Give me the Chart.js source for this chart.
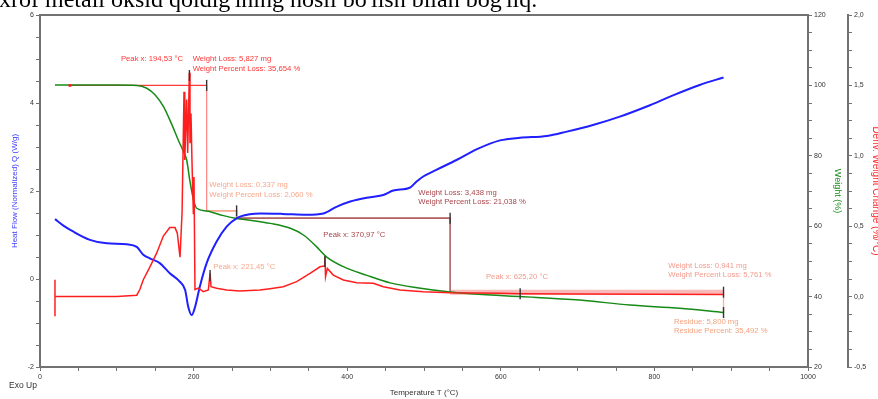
<!DOCTYPE html>
<html><head><meta charset="utf-8">
<script src="https://cdn.jsdelivr.net/npm/chart.js@4.4.0/dist/chart.umd.min.js"></script>
<style>
html,body{margin:0;padding:0;background:#fff;overflow:hidden;}
#wrap{position:relative;width:878px;height:399px;overflow:hidden;background:#fff;}
#doc{position:absolute;left:-1px;top:-13px;font-family:'Liberation Serif','Times New Roman',serif;font-size:24px;line-height:24px;color:#000;white-space:nowrap;}
canvas{position:absolute;left:0;top:0;}
</style></head><body>
<div id="wrap"><canvas id="c" width="878" height="399"></canvas><div id="doc">xrof metall oksid qoldig'ining hosil bo'lish bilan bog'liq.</div></div>
<script>
// ---------------- data ----------------
const hfTemp = [19.5, 30, 43, 65, 87, 113, 126, 134.5, 143, 156, 169, 182, 189, 193, 197.5, 202, 208, 217, 230, 243, 256, 273, 287, 316, 347, 369, 386, 404, 430, 447, 460, 482, 490, 499, 516, 543, 569, 599, 625, 660, 686, 720, 755, 790, 825, 859, 890];
const heatFlow = [1.36, 1.22, 1.08, 0.89, 0.81, 0.79, 0.73, 0.55, 0.47, 0.36, 0.13, -0.06, -0.25, -0.63, -0.82, -0.63, -0.18, 0.36, 0.85, 1.19, 1.38, 1.47, 1.49, 1.48, 1.46, 1.49, 1.64, 1.76, 1.86, 1.91, 2.01, 2.08, 2.21, 2.33, 2.48, 2.71, 2.95, 3.15, 3.21, 3.25, 3.35, 3.50, 3.69, 3.92, 4.18, 4.41, 4.58];

const wTemp = [19.5, 60, 100, 126, 139, 150, 161, 171, 180, 186, 191, 195, 200, 204, 217, 239, 256, 274, 300, 326, 343, 360, 373, 395, 425, 456, 491, 534, 599, 625, 703, 768, 833, 890];
const weightPct = [100.1, 100.1, 100.1, 100.0, 99.2, 97.3, 93.9, 89.2, 84.5, 81.6, 78.8, 73.1, 67.4, 65.1, 64.3, 63.0, 62.2, 61.7, 60.8, 59.4, 57.5, 54.2, 51.3, 48.5, 46.1, 43.9, 42.5, 41.3, 40.3, 40.0, 39.0, 37.6, 36.7, 35.5];

const dTemp = [19.5, 19.5, 19.5, 21, 60, 100, 126, 130, 134.5, 143, 152, 160.6, 169, 175.8, 178.8, 182.3, 185, 187.5, 188.5, 191, 192.3, 194.5, 195.3, 196.6, 197.9, 199.7, 200.5, 201.8, 206.2, 212.7, 219.2, 221.45, 222.7, 230, 243, 260, 286.5, 299.5, 316.8, 334.2, 351.6, 364.6, 369.8, 370.97, 371.8, 374.1, 381.9, 395, 412.4, 434, 447, 468.8, 499, 534, 599, 625.2, 700, 800, 890];
const derivWeight = [-0.14, 0.12, 0.0, 0.0, 0.0, 0.0, 0.01, 0.05, 0.12, 0.21, 0.31, 0.43, 0.49, 0.49, 0.45, 0.28, 0.6, 1.455, 0.97, 1.40, 1.02, 1.59, 1.09, 1.30, 0.96, 0.59, 0.85, 0.05, 0.06, 0.035, 0.047, 0.165, 0.07, 0.059, 0.047, 0.04, 0.047, 0.056, 0.07, 0.106, 0.165, 0.212, 0.217, 0.283, 0.141, 0.2, 0.153, 0.118, 0.099, 0.094, 0.07, 0.047, 0.035, 0.028, 0.023, 0.02, 0.018, 0.016, 0.015];

// weight-loss step analysis
const stepTemp = [39, 217, 256, 534, 890];
const stepWeight = [100, 64.35, 62.29, 41.25, 35.49];

// peak markers
const peakTemp = [194.53, 221.45, 370.97, 625.20];
const peakDeriv = [1.57, 0.15, 0.25, 0.02];

// annotation texts, anchored in (temperature, weight %)
const annText = ['Peak x: 194,53 °C', 'Weight Loss: 5,827 mg', 'Weight Percent Loss: 35,654 %',
  'Weight Loss: 0,337 mg', 'Weight Percent Loss: 2,060 %',
  'Weight Loss: 3,438 mg', 'Weight Percent Loss: 21,038 %',
  'Peak x: 370,97 °C', 'Peak x: 221,45 °C', 'Peak x: 625,20 °C',
  'Weight Loss: 0,941 mg', 'Weight Percent Loss: 5,761 %',
  'Residue: 5,800 mg', 'Residue Percent: 35,492 %'];
const annTemp = [186.2, 198.8, 198.8, 220.5, 220.5, 492.6, 492.6, 368.9, 225.7, 580.7, 818.1, 818.1, 825.5, 825.5];
const annWeight = [107.5, 107.5, 104.6, 71.7, 68.9, 69.5, 66.8, 57.5, 48.5, 45.65, 48.8, 46.05, 32.9, 30.2];

// axis ticks
const xTickLabels = [0, 200, 400, 600, 800, 1000];
const hfTickLabels = [-2, 0, 2, 4, 6];
const wTickLabels = [20, 40, 60, 80, 100, 120];
const dTickLabels = [-0.5, 0.0, 0.5, 1.0, 1.5, 2.0];

// ---------------- styles ----------------
const annColor = ['#ff3535', '#ff3535', '#ff3535', '#f6a98c', '#f6a98c', '#a8454a', '#a8454a', '#a8454a', '#f6a98c', '#f39a8c', '#f39a8c', '#f39a8c', '#f3a27e', '#f3a27e'];
const annAlign = ['right', 'left', 'left', 'left', 'left', 'left', 'left', 'left', 'left', 'left', 'left', 'left', 'left', 'left'];
const stepColH = ['#ff3a3a', '#f6a98c', '#b06060', 'rgba(240,100,100,0.45)'];
const stepColV = ['#ff8a8a', '#f6a98c', '#b06060', '#f7b0a8'];
const stepWidH = [1.3, 1.6, 1.6, 5];
const stepWidV = [1.3, 1.6, 1.6, 1.3];

const FONT = "'Liberation Sans Narrow','Liberation Sans',Arial,sans-serif";
Chart.defaults.font.family = FONT;
Chart.defaults.font.size = 7;
Chart.defaults.color = '#333';

function zip(xs, ys) { return xs.map((x, i) => ({x: x, y: ys[i]})); }
function range(min, max, step) { const a = []; for (let v = min; v <= max + 1e-9; v += step) a.push({value: Math.round(v * 1000) / 1000}); return a; }
function isIn(v, list) { return list.some(t => Math.abs(t - v) < 1e-6); }

const datasets = [];
// peak ticks
datasets.push({data: zip(peakTemp, peakDeriv), yAxisID: 'y2', showLine: false, pointStyle: 'line', rotation: 90, pointRadius: 5.5, pointBorderColor: '#333', pointBorderWidth: 1.4, order: 0});
// step ticks
const stTickT = [], stTickW = [];
for (let i = 1; i < stepTemp.length; i++) { stTickT.push(stepTemp[i]); stTickW.push(stepWeight[i - 1]); }
stTickT.push(stepTemp[stepTemp.length - 1]); stTickW.push(stepWeight[stepWeight.length - 1]);
datasets.push({data: zip(stTickT, stTickW), yAxisID: 'y1', showLine: false, pointStyle: 'line', rotation: 90, pointRadius: 5.5, pointBorderColor: '#333', pointBorderWidth: 1.4, order: 0});
// start marker
datasets.push({data: [{x: stepTemp[0], y: stepWeight[0]}], yAxisID: 'y1', showLine: false, pointStyle: 'rect', pointRadius: 2, pointBackgroundColor: '#ff2020', pointBorderWidth: 0, order: 0});
// deriv
datasets.push({data: zip(dTemp, derivWeight), yAxisID: 'y2', borderColor: '#ff1e1e', borderWidth: 1.5, pointRadius: 0, tension: 0, order: 1});
// heat flow
datasets.push({data: zip(hfTemp, heatFlow), yAxisID: 'y', borderColor: '#1f1fff', borderWidth: 2, pointRadius: 0, cubicInterpolationMode: 'monotone', order: 2});
// weight
datasets.push({data: zip(wTemp, weightPct), yAxisID: 'y1', borderColor: '#168a16', borderWidth: 1.5, pointRadius: 0, cubicInterpolationMode: 'monotone', order: 3});
// steps
for (let i = 0; i < 4; i++) {
  datasets.push({
    data: [{x: stepTemp[i], y: stepWeight[i]}, {x: stepTemp[i + 1], y: stepWeight[i]}, {x: stepTemp[i + 1], y: stepWeight[i + 1]}],
    yAxisID: 'y1', pointRadius: 0, borderColor: stepColH[i], borderWidth: stepWidH[i], tension: 0, order: 4 + i,
    segment: {
      borderColor: c => c.p0DataIndex === 0 ? stepColH[i] : stepColV[i],
      borderWidth: c => c.p0DataIndex === 0 ? stepWidH[i] : stepWidV[i]
    }
  });
}

const AX = '#727272';
function axisBase() {
  return {
    grid: {drawOnChartArea: false, drawTicks: true, tickLength: 4, color: AX, tickColor: AX, tickWidth: 1},
    border: {display: true, color: AX, width: 2}
  };
}

const annPlugin = {
  id: 'annot',
  beforeDatasetsDraw(chart) {
    const {ctx, chartArea: a} = chart;
    ctx.save();
    ctx.strokeStyle = AX; ctx.lineWidth = 2;
    ctx.beginPath(); ctx.moveTo(a.left - 1, a.top); ctx.lineTo(a.right + 1, a.top); ctx.stroke();
    ctx.restore();
  },
  afterDatasetsDraw(chart) {
    const {ctx, scales: {x, y1}, chartArea: a} = chart;
    ctx.save();
    ctx.font = "7.7px " + FONT;
    ctx.textBaseline = 'middle';
    annText.forEach((t, i) => {
      ctx.fillStyle = annColor[i];
      ctx.textAlign = annAlign[i];
      ctx.fillText(t, x.getPixelForValue(annTemp[i]), y1.getPixelForValue(annWeight[i]));
    });
    ctx.font = "8.5px " + FONT;
    ctx.fillStyle = '#333'; ctx.textAlign = 'left';
    ctx.fillText('Exo Up', a.left - 31, a.bottom + 19);
    ctx.restore();
  }
};

new Chart(document.getElementById('c'), {
  type: 'line',
  data: {datasets: datasets},
  plugins: [annPlugin],
  options: {
    responsive: false, animation: false, devicePixelRatio: 1,
    layout: {padding: {top: 15, left: 0, right: 0, bottom: 0}},
    plugins: {legend: {display: false}, tooltip: {enabled: false}},
    scales: {
      x: Object.assign(axisBase(), {
        type: 'linear', position: 'bottom', min: 0, max: 1000,
        afterBuildTicks: s => { s.ticks = range(0, 1000, 50); },
        afterFit: s => { s.height = 32; },
        ticks: {autoSkip: false, maxRotation: 0, padding: 2, callback: v => isIn(v, xTickLabels) ? String(v) : ''},
        title: {display: true, text: 'Temperature T (°C)', color: '#333', font: {size: 8}, padding: {top: 0, bottom: 1}}
      }),
      y: Object.assign(axisBase(), {
        type: 'linear', position: 'left', min: -2, max: 6,
        afterBuildTicks: s => { s.ticks = range(-2, 6, 0.5); },
        afterFit: s => { s.width = 40; },
        ticks: {autoSkip: false, padding: 2, callback: v => isIn(v, hfTickLabels) ? String(v) : ''},
        title: {display: true, text: 'Heat Flow (Normalized) Q (W/g)', color: '#3a3aff', font: {size: 8}, padding: {top: 10, bottom: 0}}
      }),
      y1: Object.assign(axisBase(), {
        type: 'linear', position: 'right', min: 20, max: 120,
        afterBuildTicks: s => { s.ticks = range(20, 120, 5); },
        afterFit: s => { s.width = 40; },
        ticks: {autoSkip: false, padding: 2, callback: v => isIn(v, wTickLabels) ? String(v) : ''},
        title: {display: true, text: 'Weight (%)', color: '#1a8a1a', font: {size: 9}, padding: {top: 5, bottom: 0}}
      }),
      y2: Object.assign(axisBase(), {
        type: 'linear', position: 'right', min: -0.5, max: 2,
        afterBuildTicks: s => { s.ticks = range(-0.5, 2, 0.125); },
        afterFit: s => { s.width = 30; },
        ticks: {autoSkip: false, padding: 2, callback: v => isIn(v, dTickLabels) ? v.toFixed(1).replace('.', ',') : ''},
        title: {display: true, text: 'Deriv. Weight Change (%/°C)', color: '#ff2a2a', font: {size: 10, lineHeight: 1}, padding: {top: -3, bottom: 0}}
      })
    }
  }
});
</script>
</body></html>
